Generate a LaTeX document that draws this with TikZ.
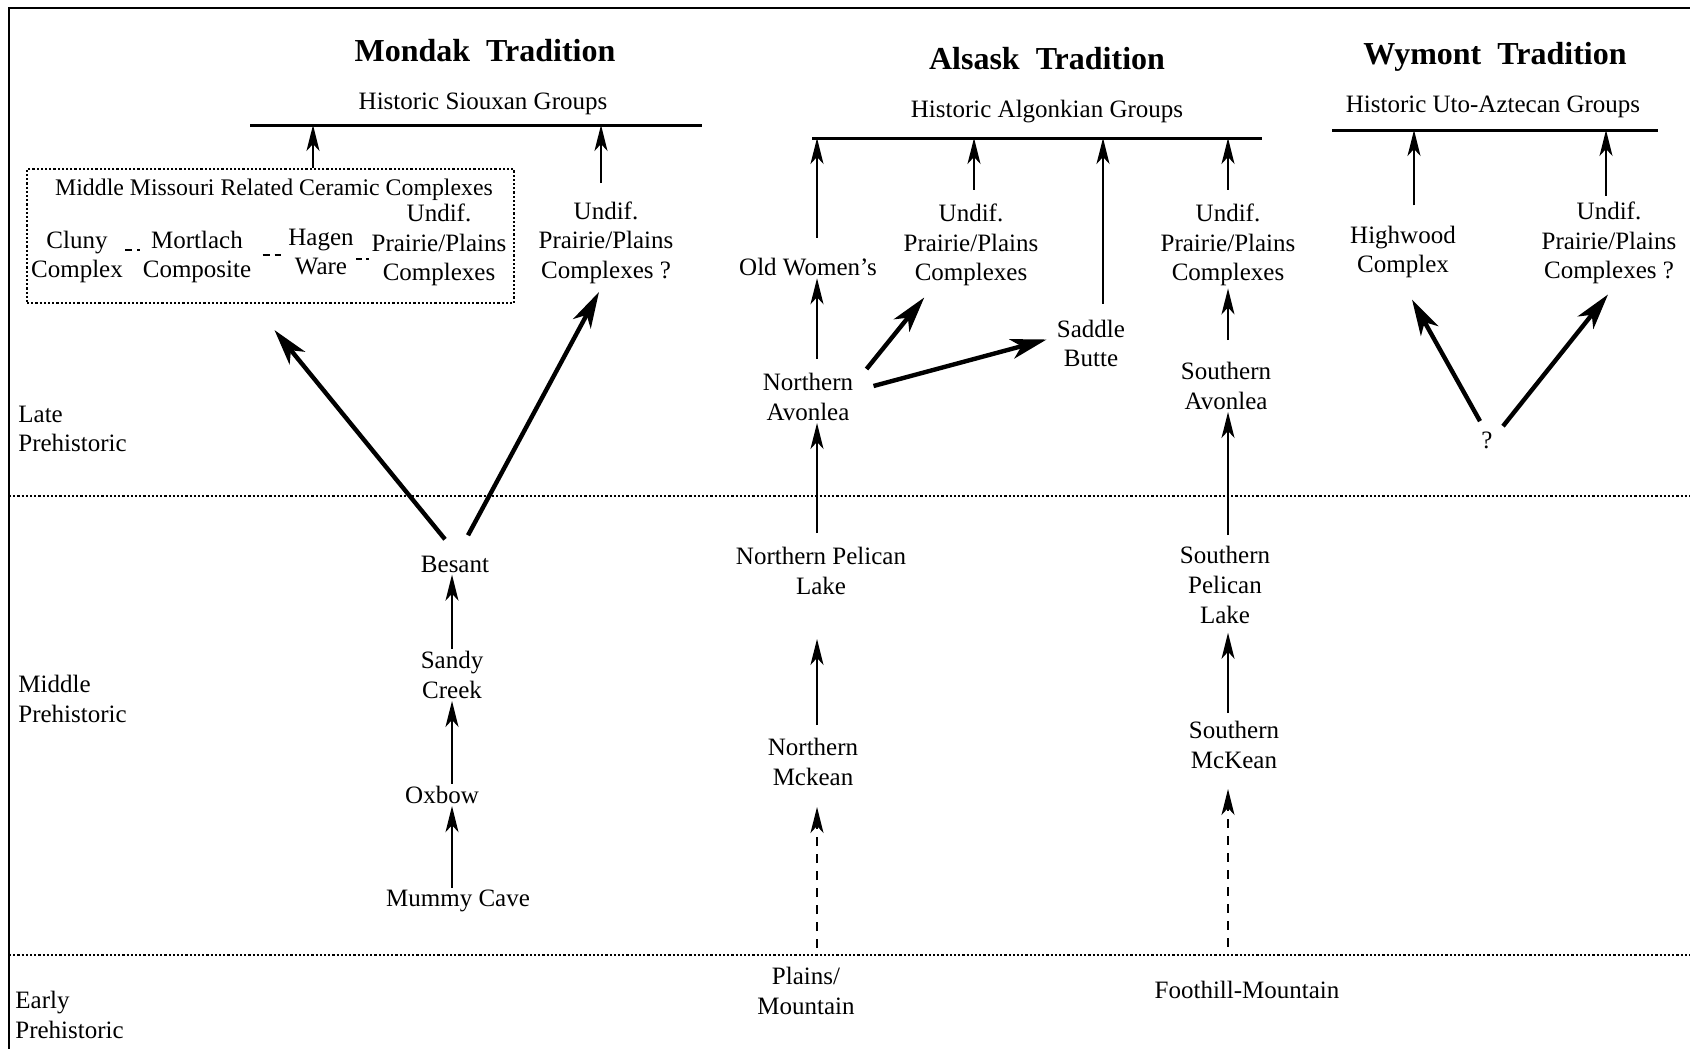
\documentclass[tikz,border=0pt]{standalone}
\usepackage{fontspec}
\setmainfont{Liberation Serif}
\usepackage{tikz}
\usetikzlibrary{arrows.meta}

\tikzset{
  phase/.style={font=\fontsize{12.5}{14.8}\selectfont, align=center, inner sep=1pt},
  tradition/.style={font=\bfseries\fontsize{16}{19}\selectfont, inner sep=1pt},
  period/.style={font=\fontsize{12.5}{14.8}\selectfont, align=left, anchor=west, inner sep=1pt},
  groupline/.style={line width=1.5pt},
  divider/.style={densely dotted, line width=1.1pt},
  ceramics/.style={draw, densely dotted, line width=1.1pt, minimum width=243.5pt, minimum height=67pt, inner sep=0pt},
  arr/.style={-{Stealth[length=13pt,width=6.5pt,inset=3.5pt]}, line width=0.8pt},
  bigarr/.style={-{Stealth[length=18pt,width=10pt,inset=5pt]}, line width=2.2pt},
  dasharr/.style={arr, dash pattern=on 4.5pt off 4pt},
  tie/.style={dash pattern=on 3.5pt off 2.5pt, line width=0.7pt},
}

\begin{document}
\begin{tikzpicture}[x=0.5pt,y=-0.5pt]
  \useasboundingbox (0,0) rectangle (1690,1049);
  % frame and period dividers
  \draw[line width=0.8pt] (1690,8) -- (9,8) -- (9,1049);
  \draw[divider] (9,496) -- (1690,496);
  \draw[divider] (9,955) -- (1690,955);
  \node[period] (late) at (16,429) {Late\\Prehistoric};
  \node[period] (middle) at (16,699) {Middle\\Prehistoric};
  \node[period] (early) at (13,1015) {Early\\Prehistoric};

  % Mondak tradition
  \node[tradition] (tmondak) at (485,51) {Mondak\ \ Tradition};
  \node[phase] (gsiouxan) at (483,103.5) {Historic Siouxan Groups};
  \draw[groupline] (250,125) -- (702,125);
  \coordinate (s1) at (313,125);
  \coordinate (s2) at (601,125);
  \node[ceramics] (mmbox) at (270.5,236) {};
  \node[phase, font=\fontsize{11.9}{14.8}\selectfont] (mmtitle) at (274,190) {Middle Missouri Related Ceramic Complexes};
  \node[phase] (cluny) at (77,257) {Cluny\\Complex};
  \node[phase] (mortlach) at (197,257) {Mortlach\\Composite};
  \node[phase] (hagen) at (321,252) {Hagen\\Ware};
  \node[phase] (mmundif) at (439,245) {Undif.\\Prairie/Plains\\Complexes};
  \draw[tie] ([yshift=3.5pt]cluny.east) -- ([yshift=3.5pt]mortlach.west);
  \draw[tie, shorten <=4.5pt, shorten >=2.5pt] ([yshift=1pt]mortlach.east) -- ([yshift=-1.5pt]hagen.west);
  \draw[tie, dash pattern=on 3pt off 2pt] ([yshift=-3.5pt]hagen.east) -- ([yshift=-7pt]mmundif.west);
  \node[phase] (mundif) at (606,242.5) {Undif.\\Prairie/Plains\\Complexes ?};
  \node[phase] (besant) at (455,564) {Besant};
  \node[phase] (sandy) at (452,675) {Sandy\\Creek};
  \node[phase] (oxbow) at (442,795) {Oxbow};
  \node[phase] (mummy) at (458,901) {Mummy Cave};
  \draw[arr] (mmbox.north -| s1) -- (s1);
  \draw[arr, shorten <=8pt] (mundif.north -| s2) -- (s2);
  \draw[bigarr] ([xshift=-5pt,yshift=7pt]besant.north) -- ([xshift=2pt,yshift=-13pt]mmbox.south);
  \draw[bigarr] ([xshift=6.5pt,yshift=9pt]besant.north) -- ([xshift=-3.5pt,yshift=-3pt]mundif.south);
  \draw[arr] (sandy.north) -- (sandy.north |- besant.south);
  \draw[arr] (oxbow.north -| sandy) -- (sandy.south);
  \draw[arr] (mummy.north -| sandy) -- (oxbow.south -| sandy);

  % Alsask tradition
  \node[tradition] (talsask) at (1047,59) {Alsask\ \ Tradition};
  \node[phase] (galgonkian) at (1047,111.5) {Historic Algonkian Groups};
  \draw[groupline] (812,138) -- (1262,138);
  \coordinate (a1) at (817,138);
  \coordinate (a2) at (974,138);
  \coordinate (a3) at (1103,138);
  \coordinate (a4) at (1228,138);
  \node[phase] (oldwomen) at (808,267) {Old Women's};
  \node[phase] (aundif1) at (971,245) {Undif.\\Prairie/Plains\\Complexes};
  \node[phase] (saddle) at (1091,343.5) {Saddle\\Butte};
  \node[phase] (aundif2) at (1228,245) {Undif.\\Prairie/Plains\\Complexes};
  \node[phase] (navonlea) at (808,397) {Northern\\Avonlea};
  \node[phase] (savonlea) at (1226,386) {Southern\\Avonlea};
  \node[phase] (npelican) at (821,571) {Northern Pelican\\Lake};
  \node[phase] (spelican) at (1225,585) {Southern\\Pelican\\Lake};
  \node[phase] (nmckean) at (813,762) {Northern\\Mckean};
  \node[phase] (smckean) at (1234,745) {Southern\\McKean};
  \node[phase] (plains) at (806,991) {Plains/\\Mountain};
  \node[phase] (foothill) at (1247,990) {Foothill-Mountain};
  \draw[arr, shorten <=9pt] (oldwomen.north -| a1) -- (a1);
  \draw[arr, shorten <=6pt] (aundif1.north -| a2) -- (a2);
  \draw[arr, shorten <=7pt] (saddle.north -| a3) -- (a3);
  \draw[arr, shorten <=6pt] (aundif2.north -| a4) -- (a4);
  \draw[arr, shorten <=6pt] (navonlea.north -| a1) -- (oldwomen.south -| a1);
  \draw[bigarr] ([xshift=5.5pt,yshift=1pt]navonlea.north east) -- ([xshift=11.5pt,yshift=-4.5pt]aundif1.south west);
  \draw[bigarr] ([xshift=9pt,yshift=5.5pt]navonlea.east) -- ([xshift=-4pt,yshift=2pt]saddle.west);
  \draw[arr, shorten <=10pt] (savonlea.north -| a4) -- (aundif2.south -| a4);
  \draw[arr, shorten <=6pt] (npelican.north -| a1) -- (navonlea.south -| a1);
  \draw[arr, shorten <=4.5pt] (spelican.north -| a4) -- (savonlea.south -| a4);
  \draw[arr, shorten <=5.5pt, shorten >=21pt] (nmckean.north -| a1) -- (npelican.south -| a1);
  \draw[arr, shorten <=3pt, shorten >=3.5pt] (smckean.north -| a4) -- (spelican.south -| a4);
  \draw[dasharr, shorten <=8.5pt, shorten >=9.5pt] (plains.north -| a1) -- (nmckean.south -| a1);
  \draw[dasharr, shorten <=16pt, shorten >=9pt] (foothill.north -| a4) -- (smckean.south -| a4);

  % Wymont tradition
  \node[tradition] (twymont) at (1495,57) {Wymont\ \ Tradition};
  \node[phase] (gutoaztecan) at (1493,106.5) {Historic Uto-Aztecan Groups};
  \draw[groupline] (1332,130) -- (1658,130);
  \coordinate (w1) at (1414,130);
  \coordinate (w2) at (1606,130);
  \node[phase] (highwood) at (1403,252) {Highwood\\Complex};
  \node[phase] (wundif) at (1609,243) {Undif.\\Prairie/Plains\\Complexes ?};
  \node[phase] (unknown) at (1487,440) {?};
  \draw[arr, shorten <=9pt] (highwood.north -| w1) -- (w1);
  \draw[arr, shorten <=2pt] (wundif.north -| w2) -- (w2);
  \draw[bigarr] ([xshift=-3.5pt,yshift=4pt]unknown.north) -- ([xshift=4.5pt,yshift=-9.5pt]highwood.south);
  \draw[bigarr] ([xshift=8pt,yshift=1.5pt]unknown.north) -- ([xshift=-0.5pt,yshift=-4pt]wundif.south);
\end{tikzpicture}
\end{document}
